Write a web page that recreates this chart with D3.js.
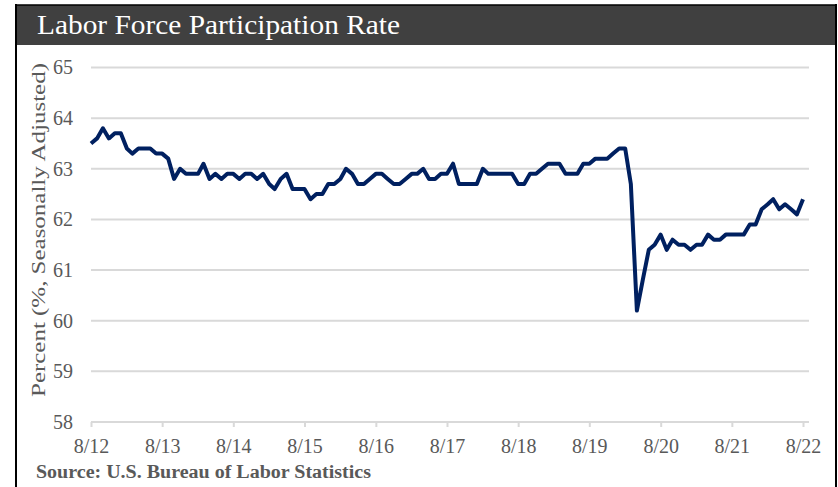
<!DOCTYPE html>
<meta charset="utf-8">
<style>
body { margin: 0; background: #fff; }
svg { display: block; font-family: "Liberation Serif", "Times New Roman", serif; }
.grid line { stroke: #d9d9d9; stroke-width: 2px; }
.axis path, .axis line { stroke: #d9d9d9; stroke-width: 2px; }
.axis text { fill: #595959; font-size: 20px; font-family: "Liberation Serif", "Times New Roman", serif; }
.line { fill: none; stroke: #002060; stroke-width: 4px; stroke-linejoin: round; }
</style>
<svg width="838" height="487"></svg>
<script src="https://cdn.jsdelivr.net/npm/d3@7"></script>
<script>

// monthly, seasonally adjusted, Aug 2012 .. Aug 2022
var startMonth = new Date(2012, 7, 1);
var lfpr = [
  63.5, 63.6, 63.8, 63.6, 63.7,                                     // 2012 Aug-Dec
  63.7, 63.4, 63.3, 63.4, 63.4, 63.4, 63.3, 63.3, 63.2, 62.8, 63.0, 62.9, // 2013
  62.9, 62.9, 63.1, 62.8, 62.9, 62.8, 62.9, 62.9, 62.8, 62.9, 62.9, 62.8, // 2014
  62.9, 62.7, 62.6, 62.8, 62.9, 62.6, 62.6, 62.6, 62.4, 62.5, 62.5, 62.7, // 2015
  62.7, 62.8, 63.0, 62.9, 62.7, 62.7, 62.8, 62.9, 62.9, 62.8, 62.7, 62.7, // 2016
  62.8, 62.9, 62.9, 63.0, 62.8, 62.8, 62.9, 62.9, 63.1, 62.7, 62.7, 62.7, // 2017
  62.7, 63.0, 62.9, 62.9, 62.9, 62.9, 62.9, 62.7, 62.7, 62.9, 62.9, 63.0, // 2018
  63.1, 63.1, 63.1, 62.9, 62.9, 62.9, 63.1, 63.1, 63.2, 63.2, 63.2, 63.3, // 2019
  63.4, 63.4, 62.7, 60.2, 60.8, 61.4, 61.5, 61.7, 61.4, 61.6, 61.5, 61.5, // 2020
  61.4, 61.5, 61.5, 61.7, 61.6, 61.6, 61.7, 61.7, 61.7, 61.7, 61.9, 61.9, // 2021
  62.2, 62.3, 62.4, 62.2, 62.3, 62.2, 62.1, 62.4                          // 2022 Jan-Aug
];
var yTicks = [58, 59, 60, 61, 62, 63, 64, 65];
var xTickYears = [2012, 2013, 2014, 2015, 2016, 2017, 2018, 2019, 2020, 2021, 2022];

var title = "Labor Force Participation Rate",
    yLabel = "Percent (%, Seasonally Adjusted)",
    source = "Source:  U.S. Bureau of Labor Statistics";

var data = lfpr.map(function(v, i) {
  return {date: new Date(startMonth.getFullYear(), startMonth.getMonth() + i, 1), value: v};
});

var svg = d3.select("svg");

// frame + title bar
svg.append("rect").attr("x", 16).attr("y", 5).attr("width", 820).attr("height", 40).attr("fill", "#404040");
svg.append("line").attr("x1", 15).attr("x2", 837).attr("y1", 5).attr("y2", 5).attr("stroke", "#000").attr("stroke-width", 1.5);
svg.append("line").attr("x1", 16).attr("x2", 16).attr("y1", 4).attr("y2", 487).attr("stroke", "#000").attr("stroke-width", 2);
svg.append("line").attr("x1", 836).attr("x2", 836).attr("y1", 4).attr("y2", 487).attr("stroke", "#000").attr("stroke-width", 2);

svg.append("text")
    .attr("x", 37).attr("y", 34)
    .attr("fill", "#fff")
    .attr("textLength", 363)
    .attr("lengthAdjust", "spacingAndGlyphs")
    .style("font-size", "27px")
    .text(title);

var x = d3.scaleTime()
    .domain([data[0].date, data[data.length - 1].date])
    .range([91, 803]);

var y = d3.scaleLinear()
    .domain([58, 65])
    .range([422, 67.5]);

// gridlines
svg.append("g")
    .attr("class", "grid")
  .selectAll("line")
  .data(yTicks.filter(function(d) { return d > 58; }))
  .enter().append("line")
    .attr("x1", 91).attr("x2", 809)
    .attr("y1", function(d) { return y(d); })
    .attr("y2", function(d) { return y(d); });

// y tick labels
var yAxis = svg.append("g")
    .attr("class", "axis")
    .attr("transform", "translate(91,0)")
    .call(d3.axisLeft(y).tickValues(yTicks).tickSize(0).tickPadding(18).tickFormat(d3.format("d")));
yAxis.select(".domain").remove();

// x axis
var xAxis = svg.append("g")
    .attr("class", "axis")
    .attr("transform", "translate(0," + y(58) + ")")
    .call(d3.axisBottom(x)
      .tickValues(xTickYears.map(function(yr) { return new Date(yr, 7, 1); }))
      .tickSize(5).tickSizeOuter(0).tickPadding(12)
      .tickFormat(d3.timeFormat("%-m/%y")));
xAxis.select(".domain").attr("d", "M91,0H809");

// y axis title
svg.append("text")
    .attr("transform", "translate(45," + 230 + ") rotate(-90)")
    .attr("text-anchor", "middle")
    .attr("fill", "#595959")
    .attr("textLength", 334)
    .attr("lengthAdjust", "spacingAndGlyphs")
    .style("font-size", "19px")
    .text(yLabel);

var line = d3.line()
    .x(function(d) { return x(d.date); })
    .y(function(d) { return y(d.value); });

svg.append("path")
    .datum(data)
    .attr("class", "line")
    .attr("d", line);

svg.append("text")
    .attr("x", 36).attr("y", 478)
    .attr("fill", "#595959")
    .attr("textLength", 335)
    .attr("lengthAdjust", "spacingAndGlyphs")
    .style("font-size", "18px")
    .style("font-weight", "bold")
    .text(source);

</script>
